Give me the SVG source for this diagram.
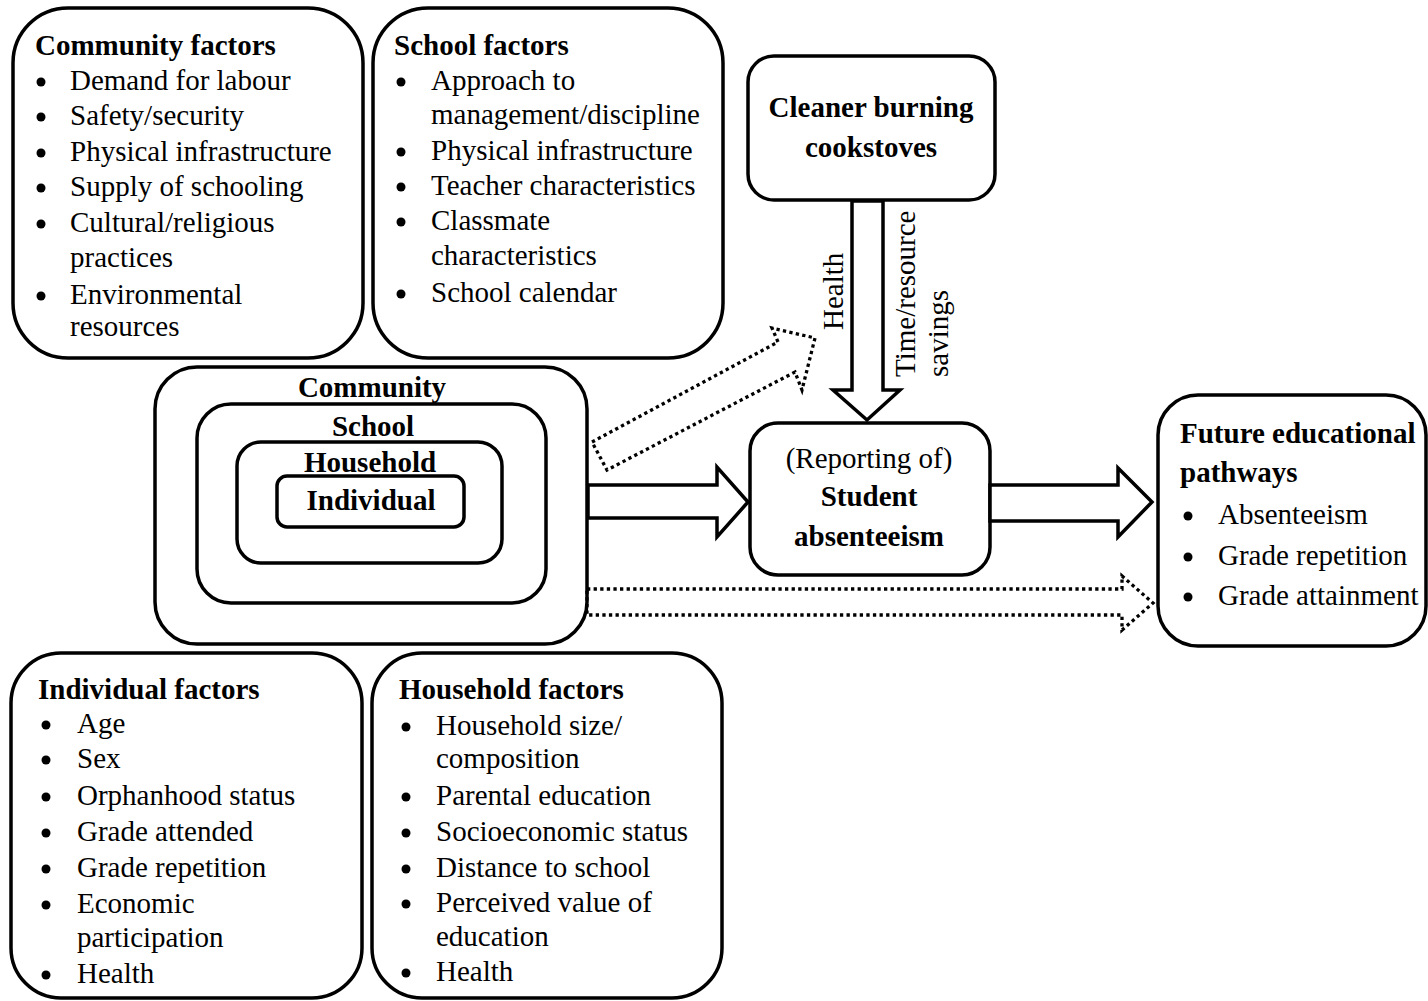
<svg xmlns="http://www.w3.org/2000/svg" width="1428" height="1001" viewBox="0 0 1428 1001">
<style>
text { font-family: "Liberation Serif", "Times New Roman", serif; font-size: 29px; fill: #000; }
.b { font-weight: bold; }
.m { text-anchor: middle; }
.box { fill: #fff; stroke: #000; stroke-width: 3.5; }
.arrow { fill: #fff; stroke: #000; stroke-width: 3.5; stroke-linejoin: miter; }
.dot { fill: none; stroke: #000; stroke-width: 3.3; stroke-dasharray: 3.3 3.3; }
.bul { fill: #000; }
</style>
<rect width="1428" height="1001" fill="#fff"/>

<g id="community-factors">
<rect class="box" x="13" y="8" width="350" height="350" rx="55"/>
<text class="b" x="35" y="55">Community factors</text>
<circle class="bul" cx="41" cy="82" r="4.5"/><text x="70" y="90">Demand for labour</text>
<circle class="bul" cx="41" cy="117" r="4.5"/><text x="70" y="125">Safety/security</text>
<circle class="bul" cx="41" cy="153" r="4.5"/><text x="70" y="161">Physical infrastructure</text>
<circle class="bul" cx="41" cy="188" r="4.5"/><text x="70" y="196">Supply of schooling</text>
<circle class="bul" cx="41" cy="224" r="4.5"/><text x="70" y="232">Cultural/religious</text>
<text x="70" y="267">practices</text>
<circle class="bul" cx="41" cy="296" r="4.5"/><text x="70" y="304">Environmental</text>
<text x="70" y="336">resources</text>
</g>

<g id="school-factors">
<rect class="box" x="373" y="8" width="350" height="350" rx="55"/>
<text class="b" x="394" y="55">School factors</text>
<circle class="bul" cx="401" cy="82" r="4.5"/><text x="431" y="90">Approach to</text>
<text x="431" y="124">management/discipline</text>
<circle class="bul" cx="401" cy="152" r="4.5"/><text x="431" y="160">Physical infrastructure</text>
<circle class="bul" cx="401" cy="187" r="4.5"/><text x="431" y="195">Teacher characteristics</text>
<circle class="bul" cx="401" cy="222" r="4.5"/><text x="431" y="230">Classmate</text>
<text x="431" y="265">characteristics</text>
<circle class="bul" cx="401" cy="294" r="4.5"/><text x="431" y="302">School calendar</text>
</g>

<g id="cookstoves">
<rect class="box" x="748" y="56" width="247" height="144" rx="26"/>
<text class="b m" x="871" y="117">Cleaner burning</text>
<text class="b m" x="871" y="157">cookstoves</text>
</g>

<g id="levels">
<rect class="box" x="155" y="367" width="432" height="277" rx="42"/>
<rect class="box" x="197" y="404" width="349" height="199" rx="34"/>
<rect class="box" x="237" y="442" width="265" height="121" rx="24"/>
<rect class="box" x="277" y="476" width="187" height="51" rx="10"/>
<text class="b m" x="372" y="397">Community</text>
<text class="b m" x="373" y="436">School</text>
<text class="b m" x="370" y="472">Household</text>
<text class="b m" x="371" y="510">Individual</text>
</g>

<g id="student-absenteeism">
<rect class="box" x="750" y="423" width="240" height="152" rx="28"/>
<text class="m" x="869" y="468">(Reporting of)</text>
<text class="b m" x="869" y="506">Student</text>
<text class="b m" x="869" y="546">absenteeism</text>
</g>

<g id="future-pathways">
<rect class="box" x="1158" y="395" width="268" height="251" rx="40"/>
<text class="b" x="1180" y="443">Future educational</text>
<text class="b" x="1180" y="482">pathways</text>
<circle class="bul" cx="1188" cy="516" r="4.5"/><text x="1218" y="524">Absenteeism</text>
<circle class="bul" cx="1188" cy="557" r="4.5"/><text x="1218" y="565">Grade repetition</text>
<circle class="bul" cx="1188" cy="597" r="4.5"/><text x="1218" y="605">Grade attainment</text>
</g>

<g id="individual-factors">
<rect class="box" x="11" y="653" width="351" height="345" rx="50"/>
<text class="b" x="38" y="699">Individual factors</text>
<circle class="bul" cx="46" cy="725" r="4.5"/><text x="77" y="733">Age</text>
<circle class="bul" cx="46" cy="760" r="4.5"/><text x="77" y="768">Sex</text>
<circle class="bul" cx="46" cy="797" r="4.5"/><text x="77" y="805">Orphanhood status</text>
<circle class="bul" cx="46" cy="833" r="4.5"/><text x="77" y="841">Grade attended</text>
<circle class="bul" cx="46" cy="869" r="4.5"/><text x="77" y="877">Grade repetition</text>
<circle class="bul" cx="46" cy="905" r="4.5"/><text x="77" y="913">Economic</text>
<text x="77" y="947">participation</text>
<circle class="bul" cx="46" cy="975" r="4.5"/><text x="77" y="983">Health</text>
</g>

<g id="household-factors">
<rect class="box" x="372" y="653" width="350" height="345" rx="50"/>
<text class="b" x="399" y="699">Household factors</text>
<circle class="bul" cx="406" cy="727" r="4.5"/><text x="436" y="735">Household size/</text>
<text x="436" y="768">composition</text>
<circle class="bul" cx="406" cy="797" r="4.5"/><text x="436" y="805">Parental education</text>
<circle class="bul" cx="406" cy="833" r="4.5"/><text x="436" y="841">Socioeconomic status</text>
<circle class="bul" cx="406" cy="869" r="4.5"/><text x="436" y="877">Distance to school</text>
<circle class="bul" cx="406" cy="904" r="4.5"/><text x="436" y="912">Perceived value of</text>
<text x="436" y="946">education</text>
<circle class="bul" cx="406" cy="973" r="4.5"/><text x="436" y="981">Health</text>
</g>

<g id="connectors">
<path class="arrow" d="M588,485 L717,485 L717,467 L748,502 L717,537 L717,518 L588,518 Z"/>
<path class="arrow" d="M990,485 L1118,485 L1118,468 L1152,502 L1118,537 L1118,521 L990,521 Z"/>
<path class="arrow" d="M852,201 L883,201 L883,390 L900,390 L867,420 L833,390 L852,390 Z"/>
<path class="dot" d="M592,442 L778,342 L772,328 L815,338 L802,390 L795,372 L607,470 Z"/>
<path class="dot" d="M587,589 L1122,589 L1122,576 L1153,603 L1122,630 L1122,615 L587,615 Z"/>
<text transform="translate(843,330) rotate(-90)">Health</text>
<text transform="translate(915,377) rotate(-90)">Time/resource</text>
<text transform="translate(948,377) rotate(-90)">savings</text>
</g>
</svg>
